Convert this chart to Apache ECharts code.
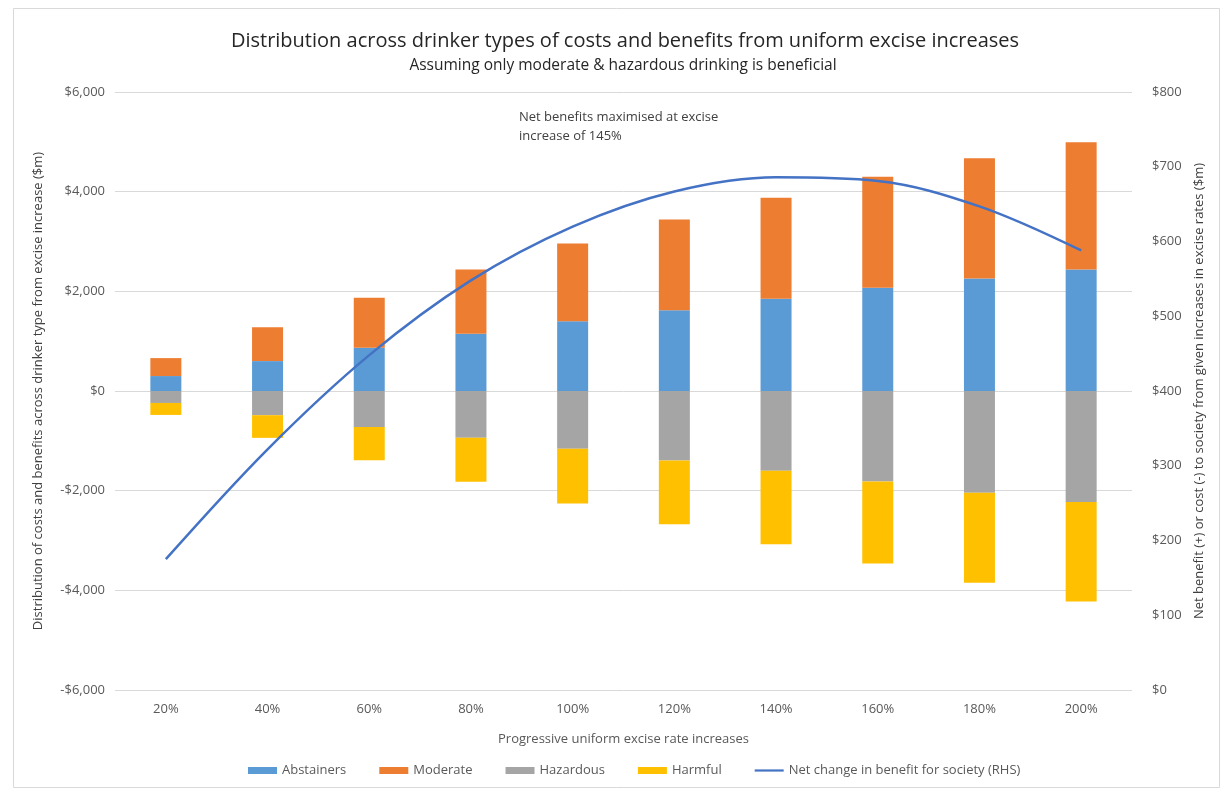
<!DOCTYPE html>
<html>
<head>
<meta charset="utf-8">
<script src="https://cdn.jsdelivr.net/npm/echarts@6/dist/echarts.min.js"></script>
<style>
  html, body { margin: 0; padding: 0; background: #ffffff; }
  #chart { width: 1226px; height: 794px; }
</style>
</head>
<body>
<div id="chart"></div>
<script>
// Excise increase steps
const categories = ['20%', '40%', '60%', '80%', '100%', '120%', '140%', '160%', '180%', '200%'];

// Costs (-) and benefits (+) by drinker type, $m (left axis)
const abstainers = [300, 600, 870, 1150, 1400, 1620, 1850, 2070, 2260, 2440];
const moderate   = [360, 680, 1000, 1290, 1560, 1820, 2030, 2230, 2410, 2550];
const hazardous  = [-240, -485, -720, -940, -1160, -1395, -1600, -1815, -2040, -2225];
const harmful    = [-240, -455, -670, -880, -1100, -1280, -1475, -1645, -1810, -2000];

// Net change in benefit for society, $m (right axis)
const netBenefit = [175, 322, 448, 548, 620, 667, 686, 681, 647, 588];

const FONT = "'Open Sans', sans-serif";
const TEXT = '#595959';

function money(v) {
  const s = '$' + Math.abs(v).toLocaleString('en-US');
  return v < 0 ? '-' + s : s;
}

const chart = echarts.init(document.getElementById('chart'));

const barSeries = (name, data, color) => ({
  name, type: 'bar', stack: 'drinkers', data,
  barWidth: 31,
  itemStyle: { color },
  emphasis: { disabled: true }
});

chart.setOption({
  backgroundColor: '#ffffff',
  textStyle: { fontFamily: FONT },
  animation: false,
  title: [
    {
      text: 'Distribution across drinker types of costs and benefits from uniform excise increases',
      left: 620, top: 26, textAlign: 'center',
      textStyle: { fontFamily: FONT, fontSize: 20, fontWeight: 'normal', color: '#262626' }
    },
    {
      text: 'Assuming only moderate & hazardous drinking is beneficial',
      left: 618, top: 53, textAlign: 'center',
      textStyle: { fontFamily: FONT, fontSize: 15.5, fontWeight: 'normal', color: '#262626' }
    }
  ],
  legend: {
    bottom: 12, left: 243,
    itemWidth: 29, itemHeight: 7, itemGap: 33,
    textStyle: { fontFamily: FONT, fontSize: 13, color: TEXT },
    data: [
      { name: 'Abstainers', icon: 'rect' },
      { name: 'Moderate', icon: 'rect' },
      { name: 'Hazardous', icon: 'rect' },
      { name: 'Harmful', icon: 'rect' },
      { name: 'Net change in benefit for society (RHS)', icon: 'path://M0,0H29V2.2H0Z' }
    ]
  },
  grid: { left: 115, right: 94, top: 92, bottom: 104 },
  xAxis: {
    type: 'category',
    data: categories,
    name: 'Progressive uniform excise rate increases',
    nameLocation: 'middle', nameGap: 43,
    nameTextStyle: { fontFamily: FONT, fontSize: 13, color: TEXT },
    axisLine: { show: false },
    axisTick: { show: false },
    axisLabel: { margin: 13, fontFamily: FONT, fontSize: 13, color: TEXT }
  },
  yAxis: [
    {
      type: 'value', min: -6000, max: 6000, interval: 2000,
      name: 'Distribution of costs and benefits across drinker type from excise increase ($m)',
      nameLocation: 'middle', nameGap: 70, nameRotate: 90,
      nameTextStyle: { fontFamily: FONT, fontSize: 13, color: '#404040' },
      axisLine: { show: false }, axisTick: { show: false },
      axisLabel: { margin: 10, fontFamily: FONT, fontSize: 13, color: TEXT, formatter: money },
      splitLine: { lineStyle: { color: '#D9D9D9', width: 1 } }
    },
    {
      type: 'value', min: 0, max: 800, interval: 100, position: 'right',
      name: 'Net benefit (+) or cost (-) to society from given increases in excise rates ($m)',
      nameLocation: 'middle', nameGap: 60, nameRotate: 90,
      nameTextStyle: { fontFamily: FONT, fontSize: 13, color: '#404040' },
      axisLine: { show: false }, axisTick: { show: false },
      axisLabel: { margin: 20, fontFamily: FONT, fontSize: 13, color: TEXT, formatter: money },
      splitLine: { show: false }
    }
  ],
  series: [
    barSeries('Abstainers', abstainers, '#5B9BD5'),
    barSeries('Moderate', moderate, '#ED7D31'),
    barSeries('Hazardous', hazardous, '#A5A5A5'),
    barSeries('Harmful', harmful, '#FFC000'),
    {
      name: 'Net change in benefit for society (RHS)',
      type: 'line', yAxisIndex: 1, data: netBenefit,
      smooth: 0.35, symbol: 'none',
      lineStyle: { color: '#4472C4', width: 2.5 },
      itemStyle: { color: '#4472C4' },
      z: 5
    }
  ],
  graphic: [
    {
      type: 'rect', silent: true,
      shape: { x: 13.5, y: 8.5, width: 1206, height: 779 },
      style: { fill: null, stroke: '#D9D9D9', lineWidth: 1 }
    },
    {
      type: 'text', left: 519, top: 108, silent: true,
      style: {
        text: 'Net benefits maximised at excise\nincrease of 145%',
        font: '13px ' + FONT, fill: '#404040', lineHeight: 19
      }
    }
  ]
});
</script>
</body>
</html>
